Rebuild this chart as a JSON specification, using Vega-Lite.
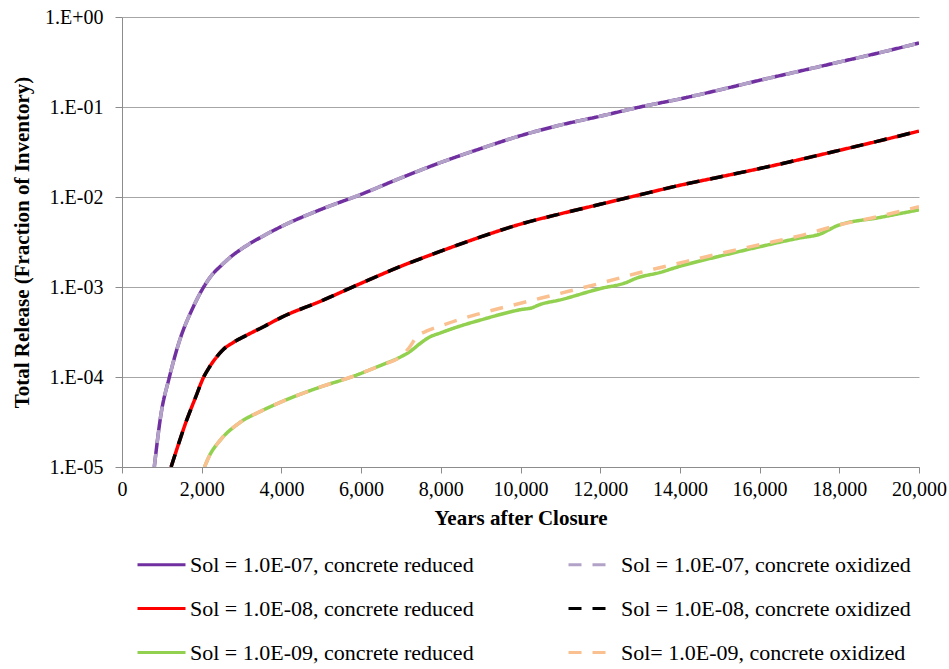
{
  "$schema": "https://vega.github.io/schema/vega-lite/v6.json",
  "width": 797,
  "height": 450,
  "autosize": {"type": "none"},
  "padding": {"left": 122, "top": 17, "right": 30, "bottom": 202},
  "background": "white",
  "config": {
    "view": {"stroke": null},
    "font": "Liberation Serif, Times New Roman, DejaVu Serif, serif",
    "legend": {
      "symbolType": "stroke",
      "symbolSize": 2304,
      "symbolStrokeWidth": 3,
      "symbolDashOffset": 0,
      "labelFont": "Liberation Serif, Times New Roman, DejaVu Serif, serif",
      "labelFontSize": 22,
      "labelColor": "#000000",
      "labelOffset": 3,
      "labelLimit": 0,
      "rowPadding": 7,
      "columnPadding": 88
    }
  },
  "datasets": {
    "rows": [
      {"series": "Sol = 1.0E-07, concrete reduced", "year": 810, "release": 1e-5},
      {"series": "Sol = 1.0E-07, concrete reduced", "year": 980, "release": 3.9e-5},
      {"series": "Sol = 1.0E-07, concrete reduced", "year": 1190, "release": 1e-4},
      {"series": "Sol = 1.0E-07, concrete reduced", "year": 1440, "release": 2.5e-4},
      {"series": "Sol = 1.0E-07, concrete reduced", "year": 1780, "release": 5.9e-4},
      {"series": "Sol = 1.0E-07, concrete reduced", "year": 2050, "release": 1e-3},
      {"series": "Sol = 1.0E-07, concrete reduced", "year": 2250, "release": 1.35e-3},
      {"series": "Sol = 1.0E-07, concrete reduced", "year": 2500, "release": 1.75e-3},
      {"series": "Sol = 1.0E-07, concrete reduced", "year": 2750, "release": 2.2e-3},
      {"series": "Sol = 1.0E-07, concrete reduced", "year": 3000, "release": 2.65e-3},
      {"series": "Sol = 1.0E-07, concrete reduced", "year": 3500, "release": 3.6e-3},
      {"series": "Sol = 1.0E-07, concrete reduced", "year": 4000, "release": 4.7e-3},
      {"series": "Sol = 1.0E-07, concrete reduced", "year": 5000, "release": 7.3e-3},
      {"series": "Sol = 1.0E-07, concrete reduced", "year": 6000, "release": 1.07e-2},
      {"series": "Sol = 1.0E-07, concrete reduced", "year": 7000, "release": 1.63e-2},
      {"series": "Sol = 1.0E-07, concrete reduced", "year": 8000, "release": 2.42e-2},
      {"series": "Sol = 1.0E-07, concrete reduced", "year": 9000, "release": 3.45e-2},
      {"series": "Sol = 1.0E-07, concrete reduced", "year": 10000, "release": 4.8e-2},
      {"series": "Sol = 1.0E-07, concrete reduced", "year": 11000, "release": 6.3e-2},
      {"series": "Sol = 1.0E-07, concrete reduced", "year": 12000, "release": 7.9e-2},
      {"series": "Sol = 1.0E-07, concrete reduced", "year": 13000, "release": 1e-1},
      {"series": "Sol = 1.0E-07, concrete reduced", "year": 14000, "release": 1.23e-1},
      {"series": "Sol = 1.0E-07, concrete reduced", "year": 15000, "release": 1.55e-1},
      {"series": "Sol = 1.0E-07, concrete reduced", "year": 16000, "release": 1.98e-1},
      {"series": "Sol = 1.0E-07, concrete reduced", "year": 17000, "release": 2.5e-1},
      {"series": "Sol = 1.0E-07, concrete reduced", "year": 18000, "release": 3.16e-1},
      {"series": "Sol = 1.0E-07, concrete reduced", "year": 19000, "release": 4.0e-1},
      {"series": "Sol = 1.0E-07, concrete reduced", "year": 20000, "release": 5.14e-1},

      {"series": "Sol = 1.0E-07, concrete oxidized", "year": 810, "release": 1e-5},
      {"series": "Sol = 1.0E-07, concrete oxidized", "year": 980, "release": 3.9e-5},
      {"series": "Sol = 1.0E-07, concrete oxidized", "year": 1190, "release": 1e-4},
      {"series": "Sol = 1.0E-07, concrete oxidized", "year": 1440, "release": 2.5e-4},
      {"series": "Sol = 1.0E-07, concrete oxidized", "year": 1780, "release": 5.9e-4},
      {"series": "Sol = 1.0E-07, concrete oxidized", "year": 2050, "release": 1e-3},
      {"series": "Sol = 1.0E-07, concrete oxidized", "year": 2250, "release": 1.35e-3},
      {"series": "Sol = 1.0E-07, concrete oxidized", "year": 2500, "release": 1.75e-3},
      {"series": "Sol = 1.0E-07, concrete oxidized", "year": 2750, "release": 2.2e-3},
      {"series": "Sol = 1.0E-07, concrete oxidized", "year": 3000, "release": 2.65e-3},
      {"series": "Sol = 1.0E-07, concrete oxidized", "year": 3500, "release": 3.6e-3},
      {"series": "Sol = 1.0E-07, concrete oxidized", "year": 4000, "release": 4.7e-3},
      {"series": "Sol = 1.0E-07, concrete oxidized", "year": 5000, "release": 7.3e-3},
      {"series": "Sol = 1.0E-07, concrete oxidized", "year": 6000, "release": 1.07e-2},
      {"series": "Sol = 1.0E-07, concrete oxidized", "year": 7000, "release": 1.63e-2},
      {"series": "Sol = 1.0E-07, concrete oxidized", "year": 8000, "release": 2.42e-2},
      {"series": "Sol = 1.0E-07, concrete oxidized", "year": 9000, "release": 3.45e-2},
      {"series": "Sol = 1.0E-07, concrete oxidized", "year": 10000, "release": 4.8e-2},
      {"series": "Sol = 1.0E-07, concrete oxidized", "year": 11000, "release": 6.3e-2},
      {"series": "Sol = 1.0E-07, concrete oxidized", "year": 12000, "release": 7.9e-2},
      {"series": "Sol = 1.0E-07, concrete oxidized", "year": 13000, "release": 1e-1},
      {"series": "Sol = 1.0E-07, concrete oxidized", "year": 14000, "release": 1.23e-1},
      {"series": "Sol = 1.0E-07, concrete oxidized", "year": 15000, "release": 1.55e-1},
      {"series": "Sol = 1.0E-07, concrete oxidized", "year": 16000, "release": 1.98e-1},
      {"series": "Sol = 1.0E-07, concrete oxidized", "year": 17000, "release": 2.5e-1},
      {"series": "Sol = 1.0E-07, concrete oxidized", "year": 18000, "release": 3.16e-1},
      {"series": "Sol = 1.0E-07, concrete oxidized", "year": 19000, "release": 4.0e-1},
      {"series": "Sol = 1.0E-07, concrete oxidized", "year": 20000, "release": 5.14e-1},

      {"series": "Sol = 1.0E-08, concrete reduced", "year": 1232, "release": 1e-5},
      {"series": "Sol = 1.0E-08, concrete reduced", "year": 1400, "release": 1.7e-5},
      {"series": "Sol = 1.0E-08, concrete reduced", "year": 1610, "release": 3.2e-5},
      {"series": "Sol = 1.0E-08, concrete reduced", "year": 1850, "release": 6.0e-5},
      {"series": "Sol = 1.0E-08, concrete reduced", "year": 2050, "release": 1e-4},
      {"series": "Sol = 1.0E-08, concrete reduced", "year": 2200, "release": 1.3e-4},
      {"series": "Sol = 1.0E-08, concrete reduced", "year": 2370, "release": 1.66e-4},
      {"series": "Sol = 1.0E-08, concrete reduced", "year": 2530, "release": 2.0e-4},
      {"series": "Sol = 1.0E-08, concrete reduced", "year": 2780, "release": 2.4e-4},
      {"series": "Sol = 1.0E-08, concrete reduced", "year": 3120, "release": 2.9e-4},
      {"series": "Sol = 1.0E-08, concrete reduced", "year": 3540, "release": 3.6e-4},
      {"series": "Sol = 1.0E-08, concrete reduced", "year": 4000, "release": 4.6e-4},
      {"series": "Sol = 1.0E-08, concrete reduced", "year": 5000, "release": 7.0e-4},
      {"series": "Sol = 1.0E-08, concrete reduced", "year": 6000, "release": 1.1e-3},
      {"series": "Sol = 1.0E-08, concrete reduced", "year": 7000, "release": 1.7e-3},
      {"series": "Sol = 1.0E-08, concrete reduced", "year": 8000, "release": 2.5e-3},
      {"series": "Sol = 1.0E-08, concrete reduced", "year": 9000, "release": 3.6e-3},
      {"series": "Sol = 1.0E-08, concrete reduced", "year": 10000, "release": 5.0e-3},
      {"series": "Sol = 1.0E-08, concrete reduced", "year": 11000, "release": 6.5e-3},
      {"series": "Sol = 1.0E-08, concrete reduced", "year": 12000, "release": 8.3e-3},
      {"series": "Sol = 1.0E-08, concrete reduced", "year": 13000, "release": 1.06e-2},
      {"series": "Sol = 1.0E-08, concrete reduced", "year": 14000, "release": 1.35e-2},
      {"series": "Sol = 1.0E-08, concrete reduced", "year": 15000, "release": 1.67e-2},
      {"series": "Sol = 1.0E-08, concrete reduced", "year": 16000, "release": 2.07e-2},
      {"series": "Sol = 1.0E-08, concrete reduced", "year": 17000, "release": 2.6e-2},
      {"series": "Sol = 1.0E-08, concrete reduced", "year": 18000, "release": 3.3e-2},
      {"series": "Sol = 1.0E-08, concrete reduced", "year": 19000, "release": 4.2e-2},
      {"series": "Sol = 1.0E-08, concrete reduced", "year": 20000, "release": 5.4e-2},

      {"series": "Sol = 1.0E-08, concrete oxidized", "year": 1232, "release": 1e-5},
      {"series": "Sol = 1.0E-08, concrete oxidized", "year": 1400, "release": 1.7e-5},
      {"series": "Sol = 1.0E-08, concrete oxidized", "year": 1610, "release": 3.2e-5},
      {"series": "Sol = 1.0E-08, concrete oxidized", "year": 1850, "release": 6.0e-5},
      {"series": "Sol = 1.0E-08, concrete oxidized", "year": 2050, "release": 1e-4},
      {"series": "Sol = 1.0E-08, concrete oxidized", "year": 2200, "release": 1.3e-4},
      {"series": "Sol = 1.0E-08, concrete oxidized", "year": 2370, "release": 1.66e-4},
      {"series": "Sol = 1.0E-08, concrete oxidized", "year": 2530, "release": 2.0e-4},
      {"series": "Sol = 1.0E-08, concrete oxidized", "year": 2780, "release": 2.4e-4},
      {"series": "Sol = 1.0E-08, concrete oxidized", "year": 3120, "release": 2.9e-4},
      {"series": "Sol = 1.0E-08, concrete oxidized", "year": 3540, "release": 3.6e-4},
      {"series": "Sol = 1.0E-08, concrete oxidized", "year": 4000, "release": 4.6e-4},
      {"series": "Sol = 1.0E-08, concrete oxidized", "year": 5000, "release": 7.0e-4},
      {"series": "Sol = 1.0E-08, concrete oxidized", "year": 6000, "release": 1.1e-3},
      {"series": "Sol = 1.0E-08, concrete oxidized", "year": 7000, "release": 1.7e-3},
      {"series": "Sol = 1.0E-08, concrete oxidized", "year": 8000, "release": 2.5e-3},
      {"series": "Sol = 1.0E-08, concrete oxidized", "year": 9000, "release": 3.6e-3},
      {"series": "Sol = 1.0E-08, concrete oxidized", "year": 10000, "release": 5.0e-3},
      {"series": "Sol = 1.0E-08, concrete oxidized", "year": 11000, "release": 6.5e-3},
      {"series": "Sol = 1.0E-08, concrete oxidized", "year": 12000, "release": 8.3e-3},
      {"series": "Sol = 1.0E-08, concrete oxidized", "year": 13000, "release": 1.06e-2},
      {"series": "Sol = 1.0E-08, concrete oxidized", "year": 14000, "release": 1.35e-2},
      {"series": "Sol = 1.0E-08, concrete oxidized", "year": 15000, "release": 1.67e-2},
      {"series": "Sol = 1.0E-08, concrete oxidized", "year": 16000, "release": 2.07e-2},
      {"series": "Sol = 1.0E-08, concrete oxidized", "year": 17000, "release": 2.6e-2},
      {"series": "Sol = 1.0E-08, concrete oxidized", "year": 18000, "release": 3.3e-2},
      {"series": "Sol = 1.0E-08, concrete oxidized", "year": 19000, "release": 4.2e-2},
      {"series": "Sol = 1.0E-08, concrete oxidized", "year": 20000, "release": 5.4e-2},

      {"series": "Sol = 1.0E-09, concrete reduced", "year": 2070, "release": 1e-5},
      {"series": "Sol = 1.0E-09, concrete reduced", "year": 2200, "release": 1.35e-5},
      {"series": "Sol = 1.0E-09, concrete reduced", "year": 2450, "release": 1.95e-5},
      {"series": "Sol = 1.0E-09, concrete reduced", "year": 2950, "release": 3.1e-5},
      {"series": "Sol = 1.0E-09, concrete reduced", "year": 3500, "release": 4.2e-5},
      {"series": "Sol = 1.0E-09, concrete reduced", "year": 4000, "release": 5.3e-5},
      {"series": "Sol = 1.0E-09, concrete reduced", "year": 5000, "release": 7.8e-5},
      {"series": "Sol = 1.0E-09, concrete reduced", "year": 5750, "release": 1e-4},
      {"series": "Sol = 1.0E-09, concrete reduced", "year": 6500, "release": 1.35e-4},
      {"series": "Sol = 1.0E-09, concrete reduced", "year": 7000, "release": 1.68e-4},
      {"series": "Sol = 1.0E-09, concrete reduced", "year": 7250, "release": 1.95e-4},
      {"series": "Sol = 1.0E-09, concrete reduced", "year": 7450, "release": 2.3e-4},
      {"series": "Sol = 1.0E-09, concrete reduced", "year": 7700, "release": 2.75e-4},
      {"series": "Sol = 1.0E-09, concrete reduced", "year": 8000, "release": 3.1e-4},
      {"series": "Sol = 1.0E-09, concrete reduced", "year": 8500, "release": 3.7e-4},
      {"series": "Sol = 1.0E-09, concrete reduced", "year": 9000, "release": 4.3e-4},
      {"series": "Sol = 1.0E-09, concrete reduced", "year": 10000, "release": 5.6e-4},
      {"series": "Sol = 1.0E-09, concrete reduced", "year": 10300, "release": 5.9e-4},
      {"series": "Sol = 1.0E-09, concrete reduced", "year": 10450, "release": 6.3e-4},
      {"series": "Sol = 1.0E-09, concrete reduced", "year": 11000, "release": 7.2e-4},
      {"series": "Sol = 1.0E-09, concrete reduced", "year": 12000, "release": 9.6e-4},
      {"series": "Sol = 1.0E-09, concrete reduced", "year": 12650, "release": 1.12e-3},
      {"series": "Sol = 1.0E-09, concrete reduced", "year": 12900, "release": 1.25e-3},
      {"series": "Sol = 1.0E-09, concrete reduced", "year": 13500, "release": 1.45e-3},
      {"series": "Sol = 1.0E-09, concrete reduced", "year": 14000, "release": 1.7e-3},
      {"series": "Sol = 1.0E-09, concrete reduced", "year": 15000, "release": 2.2e-3},
      {"series": "Sol = 1.0E-09, concrete reduced", "year": 16000, "release": 2.8e-3},
      {"series": "Sol = 1.0E-09, concrete reduced", "year": 17000, "release": 3.5e-3},
      {"series": "Sol = 1.0E-09, concrete reduced", "year": 17500, "release": 3.85e-3},
      {"series": "Sol = 1.0E-09, concrete reduced", "year": 17950, "release": 4.8e-3},
      {"series": "Sol = 1.0E-09, concrete reduced", "year": 19000, "release": 5.9e-3},
      {"series": "Sol = 1.0E-09, concrete reduced", "year": 20000, "release": 7.2e-3},

      {"series": "Sol= 1.0E-09, concrete oxidized", "year": 2070, "release": 1e-5},
      {"series": "Sol= 1.0E-09, concrete oxidized", "year": 2200, "release": 1.35e-5},
      {"series": "Sol= 1.0E-09, concrete oxidized", "year": 2450, "release": 1.95e-5},
      {"series": "Sol= 1.0E-09, concrete oxidized", "year": 2950, "release": 3.1e-5},
      {"series": "Sol= 1.0E-09, concrete oxidized", "year": 3500, "release": 4.2e-5},
      {"series": "Sol= 1.0E-09, concrete oxidized", "year": 4000, "release": 5.3e-5},
      {"series": "Sol= 1.0E-09, concrete oxidized", "year": 5000, "release": 7.8e-5},
      {"series": "Sol= 1.0E-09, concrete oxidized", "year": 5750, "release": 1e-4},
      {"series": "Sol= 1.0E-09, concrete oxidized", "year": 6500, "release": 1.35e-4},
      {"series": "Sol= 1.0E-09, concrete oxidized", "year": 7000, "release": 1.7e-4},
      {"series": "Sol= 1.0E-09, concrete oxidized", "year": 7200, "release": 2.1e-4},
      {"series": "Sol= 1.0E-09, concrete oxidized", "year": 7400, "release": 2.8e-4},
      {"series": "Sol= 1.0E-09, concrete oxidized", "year": 7650, "release": 3.25e-4},
      {"series": "Sol= 1.0E-09, concrete oxidized", "year": 8000, "release": 3.7e-4},
      {"series": "Sol= 1.0E-09, concrete oxidized", "year": 8500, "release": 4.4e-4},
      {"series": "Sol= 1.0E-09, concrete oxidized", "year": 9000, "release": 5.1e-4},
      {"series": "Sol= 1.0E-09, concrete oxidized", "year": 10000, "release": 6.6e-4},
      {"series": "Sol= 1.0E-09, concrete oxidized", "year": 11000, "release": 8.5e-4},
      {"series": "Sol= 1.0E-09, concrete oxidized", "year": 12000, "release": 1.1e-3},
      {"series": "Sol= 1.0E-09, concrete oxidized", "year": 13000, "release": 1.45e-3},
      {"series": "Sol= 1.0E-09, concrete oxidized", "year": 14000, "release": 1.85e-3},
      {"series": "Sol= 1.0E-09, concrete oxidized", "year": 15000, "release": 2.35e-3},
      {"series": "Sol= 1.0E-09, concrete oxidized", "year": 16000, "release": 2.95e-3},
      {"series": "Sol= 1.0E-09, concrete oxidized", "year": 17000, "release": 3.7e-3},
      {"series": "Sol= 1.0E-09, concrete oxidized", "year": 18000, "release": 4.9e-3},
      {"series": "Sol= 1.0E-09, concrete oxidized", "year": 19000, "release": 6.1e-3},
      {"series": "Sol= 1.0E-09, concrete oxidized", "year": 20000, "release": 7.8e-3}
    ]
  },
  "data": {"name": "rows"},
  "encoding": {
    "x": {
      "field": "year",
      "type": "quantitative",
      "scale": {"domain": [0, 20000], "nice": false},
      "axis": {
        "title": "Years after Closure",
        "values": [0, 2000, 4000, 6000, 8000, 10000, 12000, 14000, 16000, 18000, 20000],
        "format": ",d",
        "grid": false,
        "domainColor": "#8c8c8c",
        "tickColor": "#8c8c8c",
        "tickSize": 6,
        "labelFont": "Liberation Serif, Times New Roman, DejaVu Serif, serif",
        "labelFontSize": 20,
        "labelColor": "#000000",
        "labelPadding": 6,
        "labelFlush": false,
        "labelOverlap": false,
        "titleFont": "Liberation Serif, Times New Roman, DejaVu Serif, serif",
        "titleFontSize": 21,
        "titleFontWeight": "bold",
        "titleColor": "#000000",
        "titlePadding": 8
      }
    },
    "y": {
      "field": "release",
      "type": "quantitative",
      "scale": {"type": "log", "domain": [0.00001, 1], "nice": false},
      "axis": {
        "title": "Total Release (Fraction of Inventory)",
        "values": [0.00001, 0.0001, 0.001, 0.01, 0.1, 1],
        "labelExpr": "'1.E' + (datum.value >= 0.99 ? '+00' : '-0' + format(-log(datum.value)/LN10, '.0f'))",
        "grid": true,
        "gridColor": "#a6a6a6",
        "gridWidth": 1,
        "domainColor": "#8c8c8c",
        "tickColor": "#8c8c8c",
        "tickSize": 7,
        "labelFont": "Liberation Serif, Times New Roman, DejaVu Serif, serif",
        "labelFontSize": 20,
        "labelColor": "#000000",
        "labelPadding": 12,
        "labelOverlap": false,
        "titleFont": "Liberation Serif, Times New Roman, DejaVu Serif, serif",
        "titleFontSize": 21,
        "titleFontWeight": "bold",
        "titleColor": "#000000",
        "titlePadding": 12
      }
    },
    "color": {
      "field": "series",
      "type": "nominal",
      "scale": {
        "domain": [
          "Sol = 1.0E-07, concrete reduced",
          "Sol = 1.0E-07, concrete oxidized",
          "Sol = 1.0E-08, concrete reduced",
          "Sol = 1.0E-08, concrete oxidized",
          "Sol = 1.0E-09, concrete reduced",
          "Sol= 1.0E-09, concrete oxidized"
        ],
        "range": ["#7030A0", "#B3A2C7", "#FF0000", "#000000", "#92D050", "#FAC090"]
      },
      "legend": {"title": null, "orient": "none", "legendX": 14, "legendY": 522, "columns": 2, "direction": "horizontal"}
    },
    "strokeDash": {
      "field": "series",
      "type": "nominal",
      "scale": {
        "domain": [
          "Sol = 1.0E-07, concrete reduced",
          "Sol = 1.0E-07, concrete oxidized",
          "Sol = 1.0E-08, concrete reduced",
          "Sol = 1.0E-08, concrete oxidized",
          "Sol = 1.0E-09, concrete reduced",
          "Sol= 1.0E-09, concrete oxidized"
        ],
        "range": [[1, 0], [13, 11], [1, 0], [13, 11], [1, 0], [13, 11]]
      },
      "legend": {"title": null, "orient": "none", "legendX": 14, "legendY": 522, "columns": 2, "direction": "horizontal"}
    }
  },
  "layer": [
    {
      "transform": [{"filter": "indexof(datum.series, 'reduced') >= 0"}],
      "mark": {"type": "line", "strokeWidth": 3.5, "interpolate": "monotone", "clip": true}
    },
    {
      "transform": [{"filter": "indexof(datum.series, 'oxidized') >= 0"}],
      "mark": {"type": "line", "strokeWidth": 3.5, "interpolate": "monotone", "clip": true}
    }
  ]
}
